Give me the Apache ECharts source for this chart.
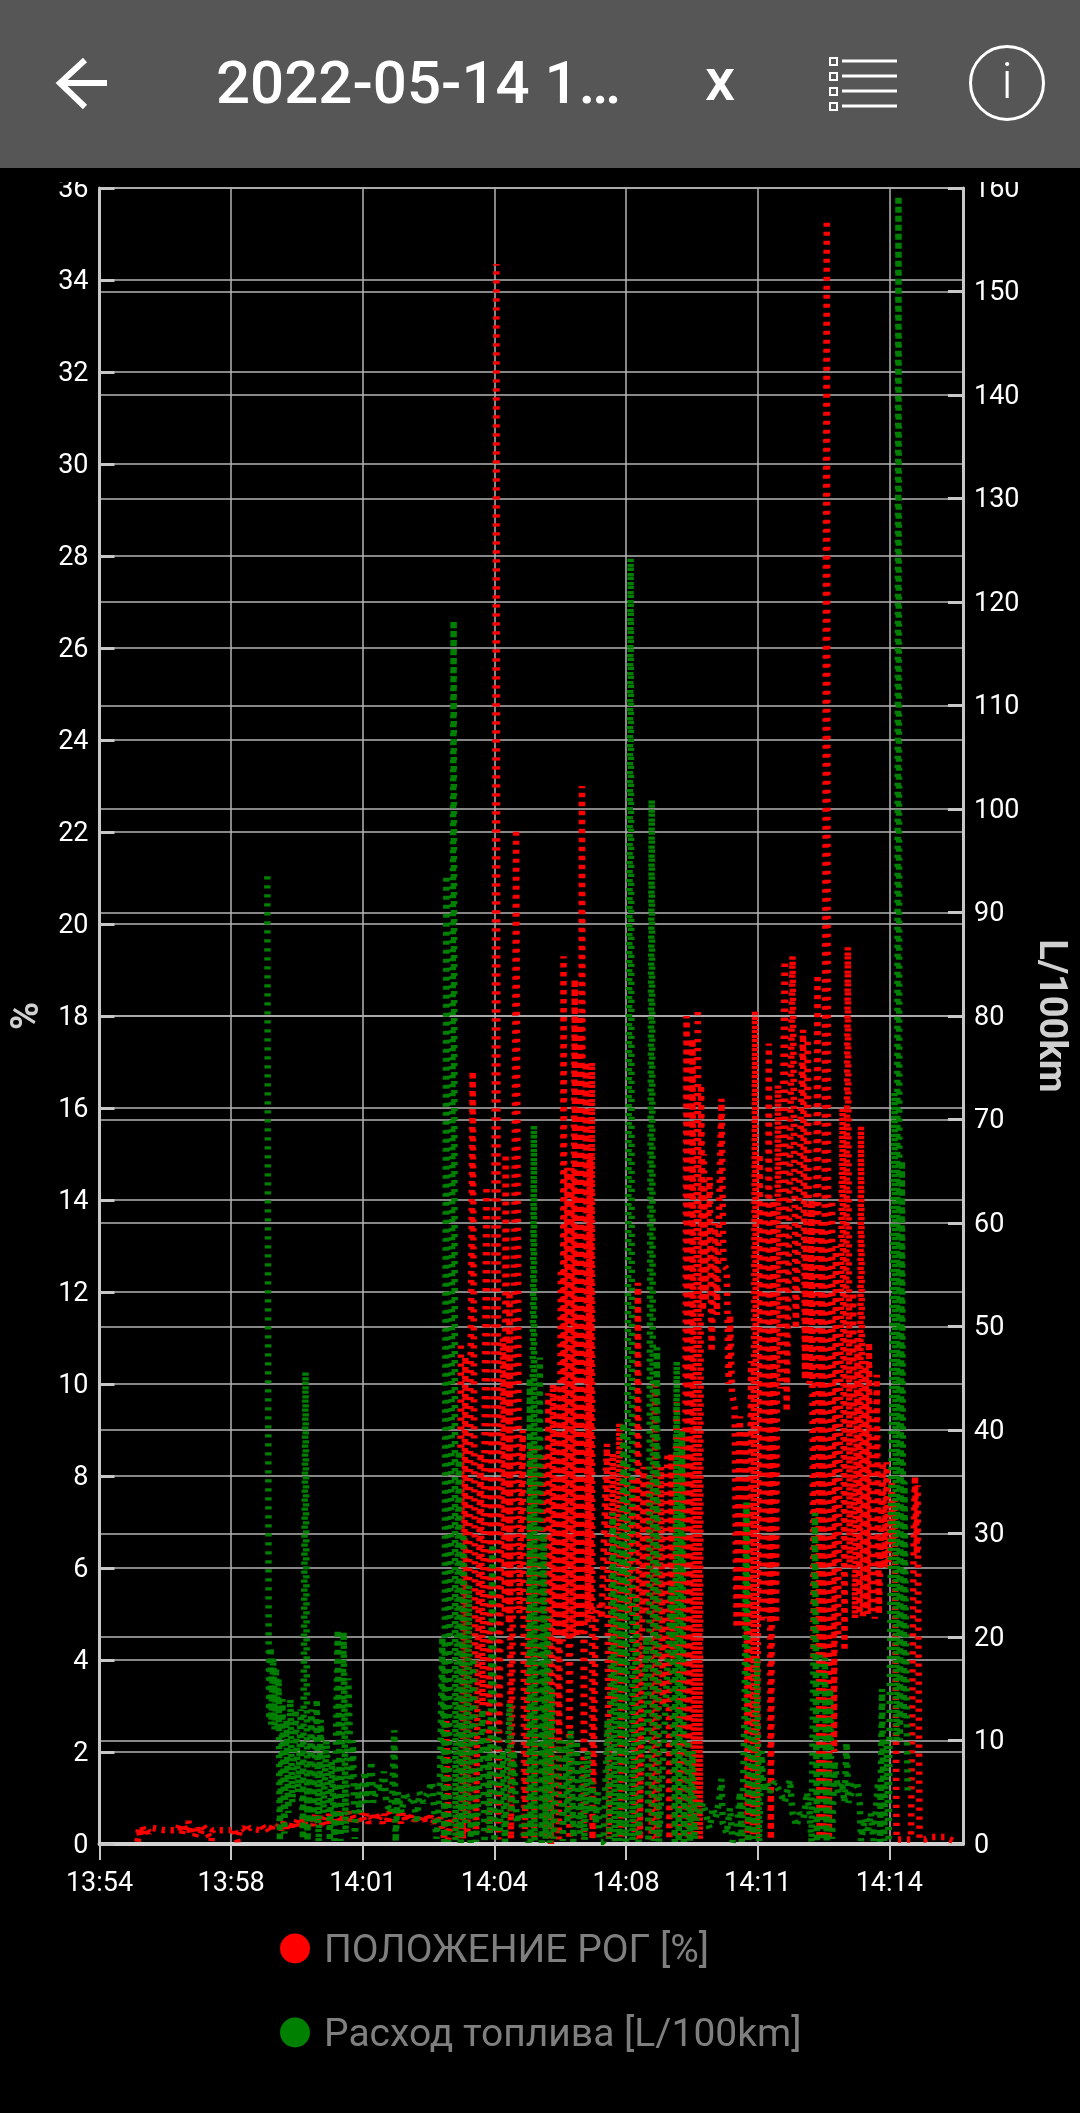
<!DOCTYPE html>
<html>
<head>
<meta charset="utf-8">
<style>html,body{margin:0;padding:0;background:#000}#c{width:1080px;height:2113px}</style>
<script src="https://cdn.jsdelivr.net/npm/echarts@6/dist/echarts.min.js"></script>
</head>
<body>
<div id="c"></div>
<script>
const titleText = "2022-05-14 1…";
const xTickLabels = ["13:54","13:58","14:01","14:04","14:08","14:11","14:14"];
const xTickSeconds = [0,200,400,600,800,1000,1200];
const throttleName = "ПОЛОЖЕНИЕ РОГ [%]";
const fuelName = "Расход топлива [L/100km]";

// idle part of the throttle trace: seconds since the 13:54 tick / %
const idleTimes = [58,60,62,65,68,71,75,80,99,110,
119,122,125,128,132,135,138,141,145,149,
153,157,162,170,172,187,200,204,210,213,
218,224,228,243,247,251,255,259,263,270,
274,277,280,284,287,291,294,298,301,304,
308,311,314,318,321,325,328,332,335,339,
342,346,349,353,356,360,363,367,370,374,
377,381,384,388,391,395,398,402,405,409,
412,416,419,423,426,430,433,437,440,444,
447,451,454,458,461,465,468,472,475,479,
482,486,489,493,496,500,503,507,510,513];
const idleValues = [0.05,0.35,0.15,0.4,0.2,0.35,0.25,0.35,0.3,0.3,
0.3,0.45,0.2,0.4,0.25,0.5,0.2,0.4,0.15,0.35,
0.2,0.4,0.3,0.05,0.3,0.3,0.3,0.35,0.05,0.3,
0.35,0.25,0.35,0.3,0.4,0.3,0.35,0.25,0.4,0.35,
0.45,0.3,0.5,0.35,0.45,0.3,0.5,0.35,0.55,0.4,
0.55,0.4,0.6,0.45,0.55,0.4,0.65,0.45,0.6,0.4,
0.6,0.45,0.65,0.4,0.6,0.5,0.7,0.45,0.6,0.5,
0.7,0.5,0.65,0.45,0.6,0.5,0.7,0.5,0.65,0.45,
0.6,0.5,0.7,0.5,0.6,0.45,0.65,0.5,0.7,0.5,
0.6,0.5,0.65,0.45,0.7,0.5,0.6,0.5,0.65,0.5,
0.6,0.45,0.6,0.5,0.65,0.5,0.6,0.45,0.6,0.5];

// active part of the throttle trace: seconds / %
const throttleTimes = [517,524,527,530,535,541,546,
549,552,556,559,567,572,579,582,588,591,596,599,603,606,613,616,617,622,623,625,628,633,638,643,646,657,660,666,669,675,678,682,686,
689,692,695,698,701,704,705,708,711,714,717,719,722,725,730,731,733,736,739,742,745,746,748,749,754,757,760,763,
771,774,780,783,790,793,801,804,810,813,818,821,827,830,836,839,844,847,853,856,863,866,869,872,877,880,886,889,
892,895,901,904,909,912,914,917,918,921,927,930,935,938,945,948,953,956,958,961,965,968,973,976,982,985,990,993,996,999,1003,1006,1011,1014,1017,1020,1024,1028,
1031,1034,1041,1044,1053,1058,1069,1072,1076,1079,1082,1085,1091,1094,1097,1100,1105,1108,1113,1116,1119,1122,1129,1132,1137,1140,
1145,1148,1152,1155,1157,1160,1164,1167,1169,1172,1175,1178,1181,1184,1190,1193,1196,1199,1204,1205,1208,1211,1216,1228,1233,1236,1237,1239,1242,1243,1246,1254,1262,1284,1300];
const throttleValues = [0.6,0.1,2.7,0.1,0.6,0.5,0.1,
10.9,0.1,10.6,0.2,16.8,0.3,8.5,3,14.3,0.2,9,5,34.35,0.1,11,5,15,4.8,12,0.1,5.2,22.06,5,9,0.1,8.7,0.1,8.7,4,8.5,0.1,9.8,0,
10,4.4,10,0.1,12.5,4.4,19.3,4.5,14.7,0.1,14.7,4.5,18.8,4.5,18,4.6,23,0.1,17,4.8,15,5,17,0.1,5.1,5,5.2,4.9,
8.7,0.1,8.5,3,9.15,0.1,8.3,5,8,0.1,12.2,0.1,8.2,5,8,0.1,10,0.1,8.2,3,8.5,0.1,8.5,4,9.6,0.1,9,0.5,
18,0.1,17.5,0.2,18.15,0.1,16.5,11.6,15,11.8,14.5,10.7,13.5,11.5,16.2,12.6,12.5,10,11.5,9.8,9.5,4.7,9.3,4.7,9,0.1,10.5,0.1,18.1,0.1,15,4.8,14,4.9,17.4,0.1,14,4.8,
16.5,9.9,19.2,9.4,19.3,11.2,17.7,10.1,17.5,10,14,4,18.9,0.1,13.5,0.1,35.3,0.1,14,2,13,4.5,16,4.2,19.5,6,
12,4.9,11,5,15.6,4.9,10.5,5,10.9,5,9.5,4.9,10.2,5,8.3,6,8.3,6,8,6.5,7.5,0.1,0.1,0.1,0.1,5,6.5,8,6.3,7.8,0.1,0.1,0.15,0.15,0.05];

// seconds since the 13:54 tick / fuel use in L/100km
const fuelTimes = [255,257,258,260,261,264,266,268,271,272,274,278,281,284,287,290,293,298,302,306,309,313,316,322,325,330,333,336,340,345,350,353,357,362,366,371,374,378,382,385,388,392,395,398,403,406,410,413,416,423,427,432,436,442,445,448,450,453,459,464,471,477,482,486,492,499,505,509,512,517,
521,524,527,530,535,538,541,546,549,553,556,561,564,568,572,582,585,590,593,597,600,605,608,613,616,623,626,629,634,638,646,649,652,654,655,660,661,669,672,675,678,681,684,687,690,695,699,704,708,711,716,720,725,730,734,737,742,745,748,754,757,760,
766,772,775,780,783,787,790,796,800,807,810,816,819,831,834,839,842,847,850,869,874,877,880,885,888,894,897,901,904,909,912,917,923,927,932,936,941,945,947,953,958,962,968,973,976,980,983,986,991,994,999,1002,1006,1009,1014,1018,1026,1034,1041,1049,1053,1059,1064,1070,1075,1079,
1082,1087,1090,1094,1097,1102,1105,1110,1113,1117,1122,1128,1132,1135,1138,1145,1151,1155,1157,1163,1167,1172,1176,1183,1186,1189,1192,1196,1199,1208,1211,1214,1216,1219,1222,1223,1226,1228];
const fuelValues = [93.5,20,12,19,11.5,18,11,17,11,16,0.3,14,1,12,3,14,4,13,5,13,0.5,45.6,0.3,13,2,14,0.2,12,3,10,0.3,8,0.3,20.7,0.3,20.5,1,16,6,10,0.5,6,3,4,7,4,6,8,4,6,5,7,4,3,5,11,0.2,5,3,5,4,4.5,2,5,4,5,6,3,0.5,5,
20,0.2,93.6,0.2,40,118.2,0.3,38,0.1,30,2,25,0.1,18,0.2,13,0.1,10,1,29,0.2,11,1,9,0.2,13.6,3,9,2,3,0.5,4,0.1,45,0.2,69.4,0.3,47,0.1,30,0.5,22,0.1,15,0.5,8,10,0.3,10,2,11,0.2,10,1,8,0.3,9,3,6,2,5,0.2,
0.2,12,0.5,32,0.2,30,0.3,40.7,0.2,124.2,0.3,24,0.2,20,0.2,100.9,0.3,48,0.2,25,0.2,46.6,0.2,40,0.2,10,0.2,9,0.4,4,3,4,2.5,1.5,3.5,2.5,4,6.3,2,1,3.5,0.2,1,5,0.2,12,33,0.2,11,0.5,18,0.2,9,5,6,5,6,5,4,6.2,3,1.7,3,2.5,5,3,
0.2,32,0.2,19,0.3,18,0.2,15,0.5,8,5,6,4,9.8,4,5.5,6,4,0.3,2.5,1,3,0.3,6,0.2,15,0.3,10,0.2,72.6,10,159.2,10,66,12,35,15,5];

const TIME_MIN = 0, TIME_MAX = 1312, TIME_STEP = 200;

function zip(a, b) { return a.map((t, i) => [t, b[i]]); }

const chart = echarts.init(document.getElementById('c'), null, {renderer: 'canvas'});
const GRID = '#b4b4b4', AXIS = '#c8c8c8', FONT = 'Roboto';
const dash = {width: 6.5, type: [3.3, 5.7], cap: 'butt', join: 'bevel'};

function yAxis(max, step, name, pos, rot, gap) {
  return {
    type: 'value', min: 0, max: max, interval: step, position: pos,
    name: name, nameLocation: 'middle', nameRotate: rot, nameGap: gap,
    nameTextStyle: {color: '#d0d0d0', fontFamily: FONT, fontWeight: 'bold', fontSize: 38},
    axisLine: {show: true, onZero: false, lineStyle: {color: AXIS, width: 3}},
    axisTick: {show: true, inside: true, length: 15, lineStyle: {color: AXIS, width: 3}},
    axisLabel: {show: true, color: '#fff', fontFamily: FONT, fontSize: 27, margin: 11, verticalAlign: 'top', lineHeight: 4},
    splitLine: {show: true, lineStyle: {color: GRID, width: 1.5}}
  };
}

chart.setOption({
  animation: false,
  backgroundColor: '#000',
  grid: {left: 99.5, right: 117, top: 188, bottom: 269, containLabel: false},
  xAxis: {
    type: 'value', min: TIME_MIN, max: TIME_MAX, interval: TIME_STEP,
    axisLine: {show: true, onZero: false, lineStyle: {color: '#d2d2d2', width: 4}},
    axisTick: {show: true, length: 16, customValues: xTickSeconds, lineStyle: {color: AXIS, width: 2}},
    axisLabel: {
      show: true, color: '#fff', fontFamily: FONT, fontSize: 27, margin: 27,
      customValues: xTickSeconds,
      formatter: v => xTickLabels[xTickSeconds.indexOf(v)] || ''
    },
    splitLine: {show: true, lineStyle: {color: GRID, width: 1.5}}
  },
  yAxis: [
    yAxis(36, 2, '%', 'left', 90, 38),
    yAxis(160, 10, 'L/100km', 'right', -90, 58)
  ],
  legend: {
    orient: 'vertical', left: 275, top: 1928, itemWidth: 30, itemHeight: 30, itemGap: 45,
    icon: 'circle', selectedMode: false,
    formatter: n => '{a|' + n + '}',
    textStyle: {
      color: '#7f7f7f', fontFamily: FONT, fontSize: 39,
      rich: {a: {color: '#7f7f7f', fontFamily: FONT, fontSize: 39, padding: [8, 0, 0, 9]}}
    },
    data: [throttleName, fuelName]
  },
  series: [
    {name: throttleName, type: 'line', yAxisIndex: 0, showSymbol: false, symbol: 'none',
     itemStyle: {color: '#ff0000'}, lineStyle: Object.assign({color: '#ff0000'}, dash),
     data: zip(idleTimes, idleValues).concat(zip(throttleTimes, throttleValues))},
    {name: fuelName, type: 'line', yAxisIndex: 1, showSymbol: false, symbol: 'none',
     itemStyle: {color: '#008000'}, lineStyle: Object.assign({color: '#008000'}, dash),
     data: zip(fuelTimes, fuelValues)}
  ],
  graphic: [
    {type: 'rect', z: 100, shape: {x: 0, y: 168, width: 1080, height: 14}, style: {fill: '#000'}},
    {type: 'rect', z: 100, shape: {x: 0, y: 0, width: 1080, height: 168}, style: {fill: '#565656'}},
    {type: 'polyline', z: 101, shape: {points: [[107, 83], [60, 83]]}, style: {stroke: '#fff', lineWidth: 6, fill: null}},
    {type: 'polyline', z: 101, shape: {points: [[85, 60], [60, 83], [85, 107]]}, style: {stroke: '#fff', lineWidth: 6, fill: null}},
    {type: 'text', z: 101, style: {text: titleText, x: 216, y: 88, fill: '#fff', fontFamily: FONT, fontWeight: 500, fontSize: 60, verticalAlign: 'middle'}},
    {type: 'text', z: 101, style: {text: 'x', x: 720, y: 85, fill: '#fff', fontFamily: FONT, fontWeight: 500, fontSize: 60, align: 'center', verticalAlign: 'middle'}},
    ...[61, 76, 91, 106].map(y => ({type: 'rect', z: 101, shape: {x: 830, y: y - 3, width: 7, height: 7}, style: {stroke: '#fff', lineWidth: 2, fill: null}})),
    ...[61, 76, 91, 106].map(y => ({type: 'line', z: 101, shape: {x1: 842, y1: y, x2: 897, y2: y}, style: {stroke: '#fff', lineWidth: 3}})),
    {type: 'circle', z: 101, shape: {cx: 1007, cy: 83, r: 36.5}, style: {stroke: '#fff', lineWidth: 3, fill: null}},
    {type: 'text', z: 101, style: {text: 'i', x: 1007, y: 85, fill: '#fff', fontFamily: FONT, fontWeight: 300, fontSize: 50, align: 'center', verticalAlign: 'middle'}}
  ]
});
</script>
</body>
</html>
